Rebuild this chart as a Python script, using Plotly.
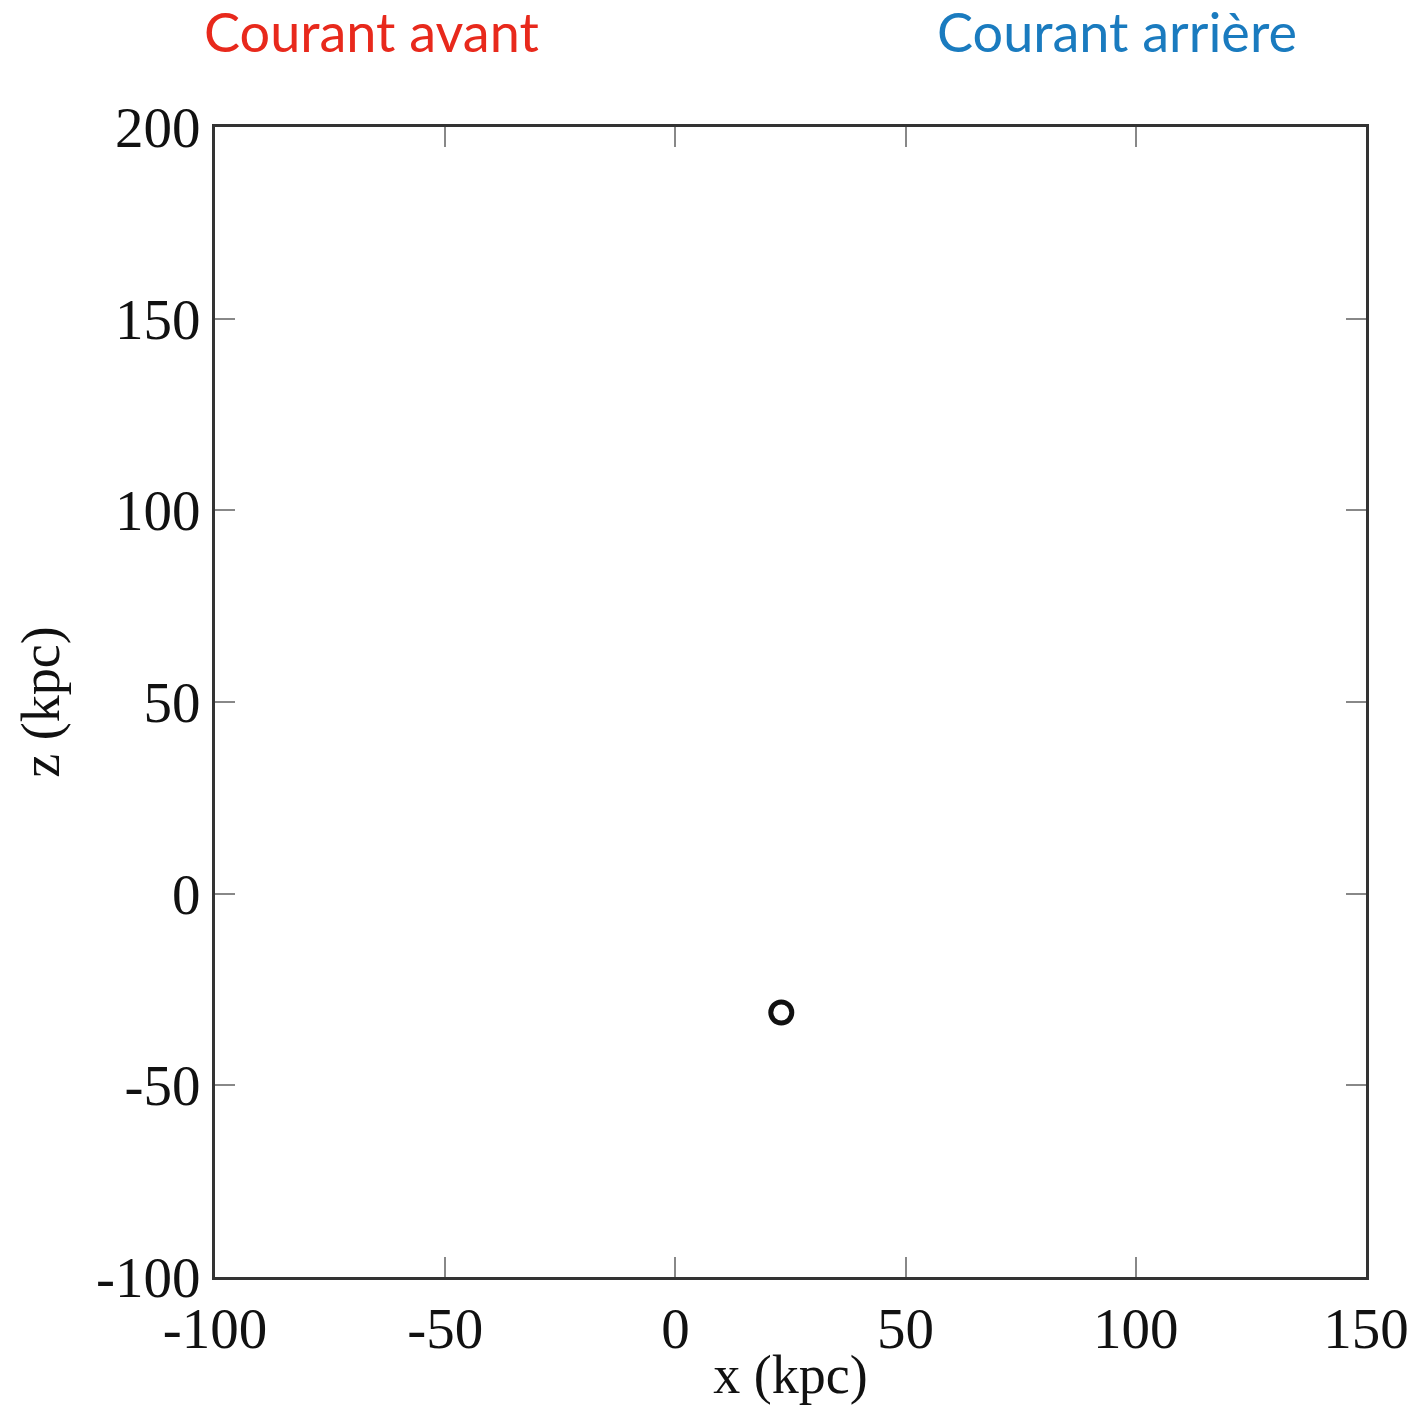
import plotly.graph_objects as go

# Data
x_kpc = [23]
z_kpc = [-31]
x_ticks = [-100, -50, 0, 50, 100, 150]
z_ticks = [-100, -50, 0, 50, 100, 150, 200]
labels = ["Courant avant", "Courant arrière"]

fig = go.Figure()
fig.add_trace(go.Scatter(
    x=x_kpc, y=z_kpc, mode="markers",
    marker=dict(symbol="circle-open", size=21, color="#111111", line=dict(width=5, color="#111111")),
    showlegend=False,
))

axis_common = dict(
    showgrid=False, zeroline=False, showline=True, linecolor="#333333", linewidth=3,
    mirror="ticks", ticks="inside", ticklen=20, tickwidth=2, tickcolor="#888888",
    tickfont=dict(family="Liberation Serif", size=57, color="#111111"),
    automargin=False,
)
fig.update_xaxes(range=[-100, 150], tickvals=x_ticks, ticktext=[str(v) for v in x_ticks],
                 title=dict(text="x (kpc)", font=dict(family="Liberation Serif", size=54, color="#111111"), standoff=0),
                 **axis_common)
fig.update_yaxes(range=[-100, 200], tickvals=z_ticks, ticktext=[str(v) for v in z_ticks],
                 title=dict(text="z (kpc)", font=dict(family="Liberation Serif", size=54, color="#111111"), standoff=20),
                 **axis_common)

fig.add_annotation(text=labels[0], xref="paper", yref="paper", x=0.1364, y=1.083,
                   showarrow=False, xanchor="center", yanchor="middle",
                   font=dict(family="Lato", size=54, color="#e8291c"))
fig.add_annotation(text=labels[1], xref="paper", yref="paper", x=0.7837, y=1.083,
                   showarrow=False, xanchor="center", yanchor="middle",
                   font=dict(family="Lato", size=54, color="#1a7bbf"))

fig.update_layout(
    width=1419, height=1405,
    margin=dict(l=215, r=53, t=127, b=128),
    paper_bgcolor="white", plot_bgcolor="white",
)
fig.write_html("out.html")
